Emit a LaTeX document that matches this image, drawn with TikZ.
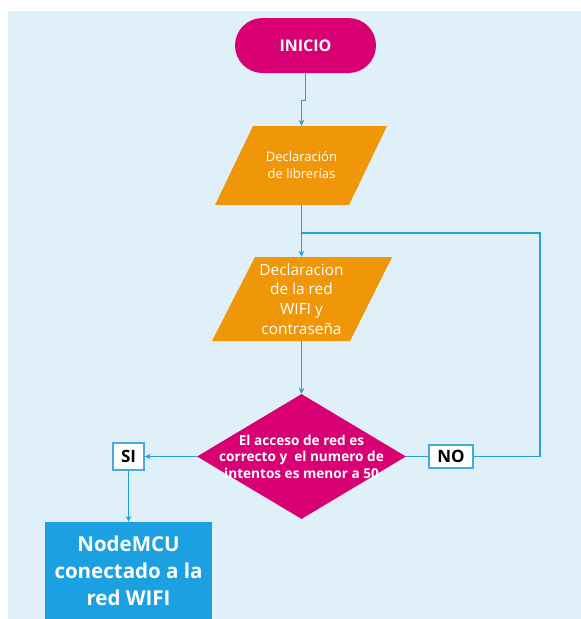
\documentclass[tikz,border=0pt]{standalone}
\usepackage{fontspec}
\setmainfont{Open Sans}
\usetikzlibrary{arrows.meta,shapes.geometric}
\definecolor{bgblue}{RGB}{223,240,249}
\definecolor{magC}{RGB}{216,0,115}
\definecolor{orgC}{RGB}{240,150,9}
\definecolor{cyanC}{RGB}{27,161,226}
\definecolor{lineC}{RGB}{36,160,220}
\definecolor{boxline}{RGB}{70,170,225}
\tikzset{
  conn/.style={draw=lineC, line width=1.3pt},
  arr/.style={conn, -{Stealth[length=6pt,width=5.5pt]}},
  ptext/.style={text=white, align=center, inner sep=0pt},
  lbl/.style={draw=boxline, fill=white, line width=1.5pt, inner sep=0pt, font=\fontsize{17}{20}\selectfont\bfseries},
}
\begin{document}
\begin{tikzpicture}[x=1pt,y=-1pt]
\useasboundingbox (0,0) rectangle (581,619);
\fill[white] (0,0) rectangle (581,619);
\fill[bgblue] (8,11) rectangle (581,619);

% start
\node[fill=magC, rounded corners=27.5pt, minimum width=141, minimum height=55, inner sep=0pt,
      text=white, font=\fontsize{16}{19}\selectfont\bfseries] (ini) at (305.5,45.5) {INICIO};

% parallelogram 1
\fill[orgC] (253,126) -- (387,126) -- (349,205) -- (215,205) -- cycle;
\node[ptext, minimum height=79, font=\fontsize{13}{17}\selectfont] (p1) at (301.5,165.5) {Declaración\\de librerías};

% parallelogram 2
\fill[orgC] (255,257) -- (392,257) -- (350,341) -- (212,341) -- cycle;
\node[ptext, minimum height=84, font=\fontsize{15.4}{19.7}\selectfont] (p2) at (301.5,299) {Declaracion\\de la red\\WIFI y\\contraseña};

% decision
\node[diamond, fill=magC, minimum width=209, minimum height=125, inner sep=0pt] (d) at (301.5,456.5) {};
\node[ptext, font=\fontsize{13.6}{16.5}\selectfont\bfseries] (dt) at (d.center) {El acceso de red es\\correcto y\ \ el numero de\\intentos es menor a 50};

% labels
\node[lbl, minimum width=31, minimum height=27] (si) at (128.5,456.5) {SI};
\node[lbl, minimum width=44, minimum height=23] (no) at (451,456.5) {NO};

% result
\node[fill=cyanC, minimum width=167, minimum height=98, inner sep=0pt, text=white, align=center,
      font=\fontsize{20.5}{27}\selectfont\bfseries] (res) at (128.5,571) {NodeMCU\\conectado a la\\red WIFI};

% connectors
\coordinate (j) at (301.5,233);
\coordinate (c) at (540,233);
\draw[arr] (ini.south) -- ++(0,27) -| (p1.north);
\draw[arr] (p1.south) -- (p2.north);
\draw[arr] (p2.south) -- (d.north);
\draw[arr] (d.west) -- (si.east);
\draw[conn] (d.east) -- (no.west);
\draw[conn] (no.east) -| (c) -- (j);
\draw[arr] (si.south) -- (res.north);
\end{tikzpicture}
\end{document}
